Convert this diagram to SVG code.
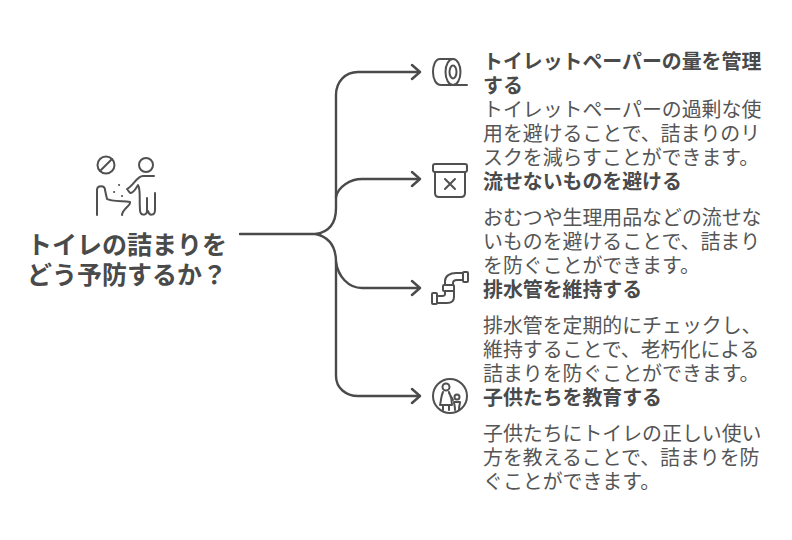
<svg xmlns="http://www.w3.org/2000/svg" width="792" height="540" viewBox="0 0 792 540">
<style>
text{font-family:"Liberation Sans","Noto Sans CJK JP",sans-serif;fill:#555;font-size:19.9px}
.b{font-weight:700;fill:#4a4a4a}
.t{font-size:25px;font-weight:700;fill:#4a4a4a}
.l{fill:none;stroke:#4a4a4a;stroke-width:2.4;stroke-linecap:round;stroke-linejoin:round}
.i{fill:none;stroke:#505050;stroke-width:2;stroke-linecap:round;stroke-linejoin:round}
</style>
<rect width="792" height="540" fill="#fff"/>
<g id="connectors" class="l">
<path d="M240 234H316C328 232 336 224 336 208V95C336 82 345 72 358 72H418"/>
<path d="M336 197C338 187 350 179 362 179H418"/>
<path d="M316 234C328 237 336 246 336 262C338 276 348 288 362 288H418"/>
<path d="M336 262V376C336 388 346 396 358 396H418"/>
<path d="M412 65L420 72L412 79M412 172L420 179L412 186M412 281L420 288L412 295M412 389L420 396L412 403"/>
</g>
<g id="root">
<g class="i">
<circle cx="106" cy="165" r="8.5"/><path d="M100 171L112 159"/>
<circle cx="146" cy="165" r="7"/>
<path d="M154 176H143C137 176 134 185 127 189L130 193C134 193 136 188 138 185C141 190 139 200 140 210C140 216 147 216 147 211L147 198M148 211C149 216 155 216 155 210V193"/>
<path d="M97 215V190C97 185 105 185 105 190L107 199C110 201 120 201 130 202C131 206 123 208 122 215"/>
<path d="M114 192h.1M119 185h.1M122 196h.1"/>
</g>
<text class="t" x="27" y="254">トイレの詰まりを</text>
<text class="t" x="27" y="284">どう予防するか？</text>
</g>
<g id="node1">
<g class="i">
<path d="M453 59H440C435 59 433 66 433 72C433 79 436 85 441 85H453"/>
<ellipse cx="453" cy="72" rx="7.5" ry="13"/>
<ellipse cx="453" cy="72" rx="3.5" ry="6.5"/>
<path d="M453 85H467"/>
</g>
<text class="b" x="483" y="68.5">トイレットペーパーの量を管理</text>
<text class="b" x="483" y="92.5">する</text>
<text x="483" y="116.5">トイレットペーパーの過剰な使</text>
<text x="483" y="140.5">用を避けることで、詰まりのリ</text>
<text x="483" y="164.5">スクを減らすことができます。</text>
</g>
<g id="node2">
<g class="i">
<rect x="433" y="164" width="34" height="8" rx="2"/>
<path d="M435 172V193C435 196 437 197 439 197H461C464 197 465 196 465 193V172"/>
<path d="M445 179L455 189M455 179L445 189"/>
</g>
<text class="b" x="483" y="188.500">流せないものを避ける</text>
<text x="483" y="224.500">おむつや生理用品などの流せな</text>
<text x="483" y="248.500">いものを避けることで、詰まり</text>
<text x="483" y="272.500">を防ぐことができます。</text>
</g>
<g id="node3">
<g class="i">
<rect x="432" y="293" width="5" height="11" rx="1"/>
<path d="M445 285V281C445 276 450 273 456 273H463M453 285V283C453 281 455 280 457 280H463M454 291V297C454 301 451 303 447 303H437M445 291V294C445 296 444 296 442 296H437"/>
<rect x="443" y="285" width="11" height="6" rx="1"/>
<rect x="463" y="272" width="5" height="10" rx="1"/>
</g>
<text class="b" x="483" y="297">排水管を維持する</text>
<text x="483" y="333">排水管を定期的にチェックし、</text>
<text x="483" y="357">維持することで、老朽化による</text>
<text x="483" y="381">詰まりを防ぐことができます。</text>
</g>
<g id="node4">
<g class="i">
<circle cx="450" cy="396" r="17"/>
<circle cx="446" cy="387" r="3.5"/>
<path d="M443 392C441 396 441 402 440 405H443V410M449 392C451 396 452 402 452 405H449V410M443 405H449M449 393L453 400"/>
<circle cx="457" cy="397" r="2.5"/>
<path d="M454 402C454 404 455 405 455 410M460 402C460 404 459 405 459 410M454 402H460"/>
</g>
<text class="b" x="483" y="405">子供たちを教育する</text>
<text x="483" y="441">子供たちにトイレの正しい使い</text>
<text x="483" y="465">方を教えることで、詰まりを防</text>
<text x="483" y="489">ぐことができます。</text>
</g>
</svg>
